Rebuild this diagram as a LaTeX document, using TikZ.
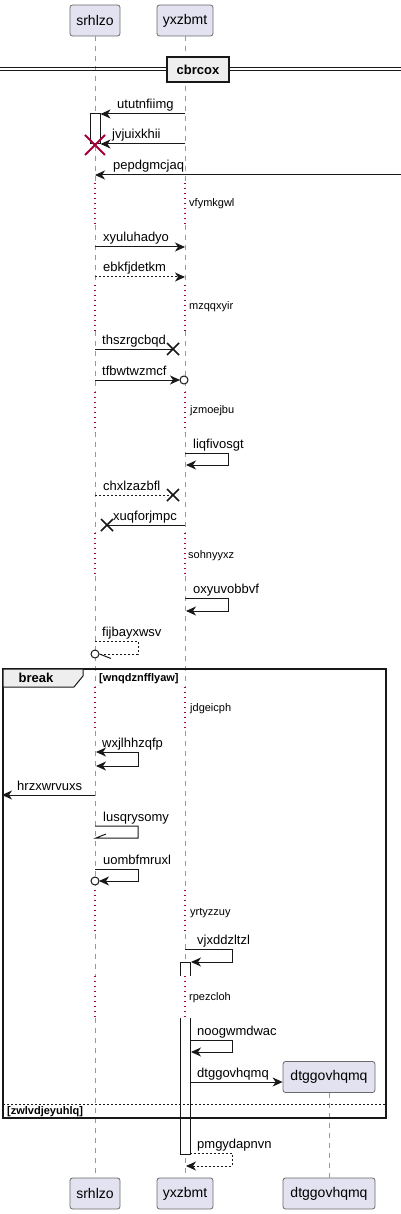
\documentclass[tikz,border=0pt]{standalone}
\usepackage{fontspec}
\setmainfont{Liberation Sans}
\usetikzlibrary{arrows.meta,calc}
\definecolor{pfill}{HTML}{E2E2F0}
\definecolor{pborder}{HTML}{6A6A6A}
\definecolor{delayc}{HTML}{A80036}
\definecolor{grpfill}{HTML}{EEEEEE}
\definecolor{ink}{HTML}{181818}
\begin{document}
\begin{tikzpicture}[x=1pt,y=-1pt,
 part/.style={draw=pborder, fill=pfill, rounded corners=2.5pt, minimum height=31pt, inner sep=0pt, font=\fontsize{14}{16}\selectfont, line width=0.8pt},
 life/.style={draw=gray!80, dash pattern=on 5pt off 5pt, line width=0.8pt},
 dly/.style={draw=delayc, dash pattern=on 1.2pt off 3.8pt, line width=1.2pt},
 msg/.style={draw=ink, line width=1pt, -{Stealth[length=10pt,width=9pt,inset=3pt]}},
 dmsg/.style={msg, dash pattern=on 2pt off 2pt},
 bimsg/.style={draw=ink, line width=1pt, {Stealth[length=10pt,width=9pt,inset=3pt]}-{Stealth[length=10pt,width=9pt,inset=3pt]}},
 plainln/.style={draw=ink, line width=1pt},
 dplainln/.style={plainln, dash pattern=on 2pt off 2pt},
 lostx/.style={draw=ink, line width=1.5pt},
 lbl/.style={anchor=base west, inner sep=0pt, font=\fontsize{13}{15}\selectfont},
 dlbl/.style={anchor=west, inner sep=0pt, font=\fontsize{11}{13}\selectfont},
 glbl/.style={anchor=west, inner sep=0pt, font=\bfseries\fontsize{11}{13}\selectfont},
 bar/.style={draw=ink, fill=white, line width=1pt},
]
\useasboundingbox (0,0) rectangle (401,1214);

% participants
\node[part, minimum width=50pt] (s) at (95,20.5) {srhlzo};
\node[part, minimum width=56pt] (y) at (185,20.5) {yxzbmt};
\node[part, minimum width=50pt] (sb) at (95,1193.5) {srhlzo};
\node[part, minimum width=56pt] (yb) at (185,1193.5) {yxzbmt};
\node[part, minimum width=92pt] (d) at (329,1077) {dtggovhqmq};
\node[part, minimum width=92pt] (db) at (329,1193.5) {dtggovhqmq};

% lifelines
\foreach \a/\b in {36/183, 225/285, 331/392, 432/533, 576/687, 731/890, 934/976, 1018/1178}{
  \draw[life] (s |- 0,\a) -- (s |- 0,\b);
  \draw[life] (y |- 0,\a) -- (y |- 0,\b);
}
\foreach \a/\b in {183/225, 285/331, 392/432, 533/576, 687/731, 890/934, 976/1018}{
  \draw[dly] (s |- 0,\a) -- (s |- 0,\b);
  \draw[dly] (y |- 0,\a) -- (y |- 0,\b);
}
\draw[life] (d.south) -- (db.north);

% delay texts
\node[dlbl] (t1) at (189,204) {vfymkgwl};
\node[dlbl] (t2) at (189,307) {mzqqxyir};
\node[dlbl] (t3) at (190,411) {jzmoejbu};
\node[dlbl] (t4) at (188,556) {sohnyyxz};
\node[dlbl] (t5) at (190,709) {jdgeicph};
\node[dlbl] (t6) at (190,913) {yrtyzzuy};
\node[dlbl] (t7) at (189,998) {rpezcloh};

% divider
\draw[ink, line width=1pt] (0,68) -- (401,68) (0,71) -- (401,71);
\node[draw=ink, fill=grpfill, line width=2pt, minimum width=62pt, minimum height=25pt, inner sep=0pt,
  font=\bfseries\fontsize{13}{15}\selectfont] (div) at (198,69.5) {cbrcox};

% activation bars
\draw[bar] (90,114) rectangle (100,144);
\fill[white] (180,962) rectangle (190,976);
\draw[ink, line width=1pt] (180,976) -- (180,962) -- (190,962) -- (190,976);
\fill[white] (180,1018) rectangle (190,1154);
\draw[ink, line width=1pt] (180,1018) -- (180,1154) -- (190,1154) -- (190,1018);

% break group
\draw[ink, line width=1.6pt] (3,669) rectangle (386,1118);
\draw[ink, line width=1pt, fill=grpfill] (3,669) -- (83,669) -- (83,676) -- (74,687) -- (3,687) -- cycle;
\node[font=\bfseries\fontsize{13}{15}\selectfont, inner sep=0pt] (bk) at (36,678) {break};
\node[glbl] (g1) at (99,679) {[wnqdznfflyaw]};
\draw[ink, line width=1pt, dash pattern=on 2pt off 2pt] (3,1104) -- (386,1104);
\node[glbl] (g2) at (7,1112) {[zwlvdjeyuhlq]};

% messages
\draw[msg] (y |- 0,114) -- ($(s |- 0,114)+(5.5,0)$);
\node[lbl] (m1) at (117,109) {ututnfiimg};

\draw[msg] (y |- 0,144) -- ($(s |- 0,144)+(5.5,0)$);
\node[lbl] (m2) at (112,139) {jvjuixkhii};
\draw[delayc, line width=2pt] (85,135) -- (105,155) (85,155) -- (105,135);

\coordinate (rE) at (401,175);
\draw[msg] (rE) -- (s |- 0,175);
\node[lbl] (m3) at (113,170) {pepdgmcjaq};

\draw[msg] (s |- 0,247) -- (y |- 0,247);
\node[lbl] (m4) at (103,242) {xyuluhadyo};

\draw[dmsg] (s |- 0,277) -- (y |- 0,277);
\node[lbl] (m5) at (103,272) {ebkfjdetkm};

\coordinate (x6) at (173,349);
\draw[plainln] (s |- 0,349) -- (x6);
\draw[lostx] ($(x6)+(-6,-6)$) -- ($(x6)+(6,6)$) ($(x6)+(-6,6)$) -- ($(x6)+(6,-6)$);
\node[lbl] (m6) at (102,344) {thszrgcbqd};

\coordinate (c7) at (184,380);
\draw[msg] (s |- 0,380) -- ($(c7)+(-4,0)$);
\draw[ink, line width=1pt, fill=white] (c7) circle (4);
\node[lbl] (m7) at (102,375) {tfbwtwzmcf};

\draw[msg] (y |- 0,453) -| (228,465) -- ($(y |- 0,465)+(1,0)$);
\node[lbl] (m8) at (193,448) {liqfivosgt};

\coordinate (x9) at (173,495);
\draw[dplainln] (s |- 0,495) -- (x9);
\draw[lostx] ($(x9)+(-6,-6)$) -- ($(x9)+(6,6)$) ($(x9)+(-6,6)$) -- ($(x9)+(6,-6)$);
\node[lbl] (m9) at (103,490) {chxlzazbfl};

\coordinate (x10) at (107,525);
\draw[plainln] (y |- 0,525) -- (x10);
\draw[lostx] ($(x10)+(-6,-6)$) -- ($(x10)+(6,6)$) ($(x10)+(-6,6)$) -- ($(x10)+(6,-6)$);
\node[lbl] (m10) at (113,520) {xuqforjmpc};

\draw[msg] (y |- 0,598) -| (228,611) -- ($(y |- 0,611)+(1,0)$);
\node[lbl] (m11) at (193,593) {oxyuvobbvf};

\coordinate (c12) at (95,654);
\draw[dplainln] (s |- 0,641) -| (138,654) -- ($(c12)+(4.5,0)$);
\draw[plainln] ($(c12)+(4.5,0)$) -- ($(c12)+(16,4.5)$);
\draw[ink, line width=1pt, fill=white] (c12) circle (4);
\node[lbl] (m12) at (102,636) {fijbayxwsv};

\draw[bimsg] ($(s |- 0,752)+(1,0)$) -| (138,766) -- ($(s |- 0,766)+(1,0)$);
\node[lbl] (m13) at (102,747) {wxjlhhzqfp};

\coordinate (lE) at (2,795);
\draw[msg] (s |- 0,795) -- (lE);
\node[lbl] (m14) at (17,790) {hrzxwrvuxs};

\draw[plainln] (s |- 0,826) -| (138,838) -- ($(s |- 0,838)+(1,0)$) -- ($(s |- 0,838)+(11,-4)$);
\node[lbl] (m15) at (103,821) {lusqrysomy};

\coordinate (c16) at (95,881);
\draw[msg] (s |- 0,869) -| (138,881) -- ($(c16)+(4,0)$);
\draw[ink, line width=1pt, fill=white] (c16) circle (4);
\node[lbl] (m16) at (103,864) {uombfmruxl};

\draw[msg] (y |- 0,949) -| (232,962) -- (191,962);
\node[lbl] (m17) at (197,944) {vjxddzltzl};

\draw[msg] (190,1040) -| (232,1052) -- (191,1052);
\node[lbl] (m18) at (197,1035) {noogwmdwac};

\draw[msg] (190,1082) -- (d.west |- 0,1082);
\node[lbl] (m19) at (197,1077) {dtggovhqmq};

\draw[dmsg] (190,1153) -| (232,1166) -- ($(y |- 0,1166)+(1,0)$);
\node[lbl] (m20) at (197,1148) {pmgydapnvn};

\end{tikzpicture}
\end{document}
